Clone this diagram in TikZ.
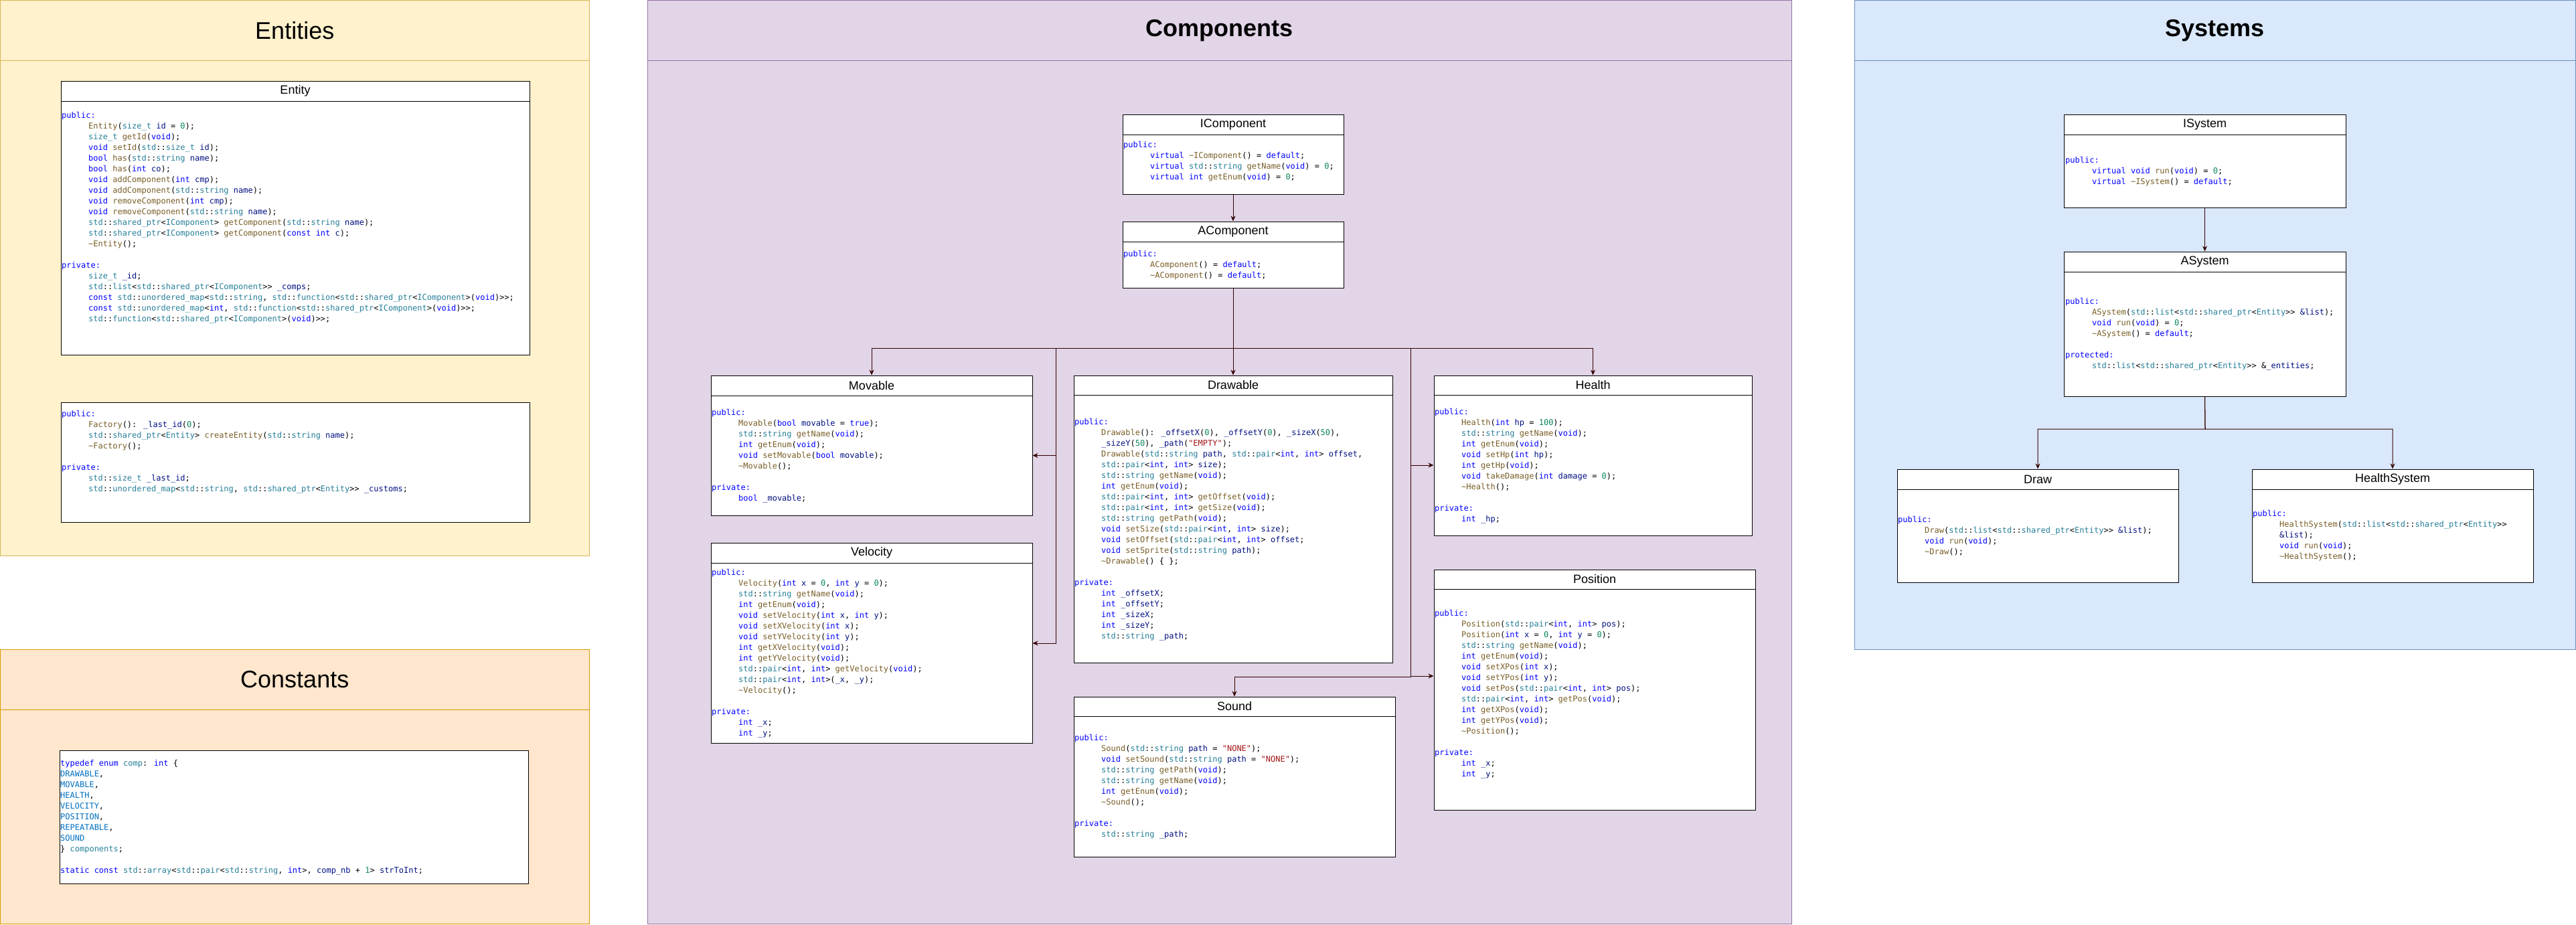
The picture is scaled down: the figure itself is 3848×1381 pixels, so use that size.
\documentclass[tikz,border=0pt]{standalone}
\usepackage{fontspec}
\setmainfont{Liberation Sans}
\newfontfamily\codefont{DejaVu Sans Mono}
\usetikzlibrary{fit,arrows.meta}

% panel and code colours
\definecolor{entfill}{HTML}{FFF2CC}\definecolor{entline}{HTML}{D6B656}
\definecolor{cstfill}{HTML}{FFE6CC}\definecolor{cstline}{HTML}{D79B00}
\definecolor{cmpfill}{HTML}{E1D5E7}\definecolor{cmpline}{HTML}{9673A6}
\definecolor{sysfill}{HTML}{DAE8FC}\definecolor{sysline}{HTML}{6C8EBF}
\definecolor{edgered}{HTML}{330000}
\definecolor{kwblue}{HTML}{0000FF}
\definecolor{tyteal}{HTML}{267F99}
\definecolor{fnbrown}{HTML}{795E26}
\definecolor{nbgreen}{HTML}{098658}
\definecolor{vrnavy}{HTML}{001080}
\definecolor{qsred}{HTML}{A31515}
\definecolor{enblue}{HTML}{0070C1}

\newcommand{\ckw}[1]{\textcolor{kwblue}{#1}}
\newcommand{\cty}[1]{\textcolor{tyteal}{#1}}
\newcommand{\cfn}[1]{\textcolor{fnbrown}{#1}}
\newcommand{\cnb}[1]{\textcolor{nbgreen}{#1}}
\newcommand{\cvr}[1]{\textcolor{vrnavy}{#1}}
\newcommand{\cqs}[1]{\textcolor{qsred}{#1}}
\newcommand{\cen}[1]{\textcolor{enblue}{#1}}
\newcommand{\cstd}[1]{\cty{std}::\cty{#1}}
\newcommand{\cind}{\hspace*{40pt}}

\tikzset{
  panel/.style={draw=#1line, fill=#1fill, line width=1pt, inner sep=0pt},
  ptitle/.style={label={[font=\fontsize{36}{40}\selectfont]center:#1}},
  head/.style={draw, fill=white, line width=1pt, inner sep=0pt, label={[font=\fontsize{18}{22}\selectfont]center:#1}},
  body/.style={draw, fill=white, line width=1pt, inner sep=0pt},
  code/.style={anchor=north west, inner sep=0pt, align=left, font=\codefont\fontsize{12}{16}\selectfont},
  arr/.style={draw=edgered, line width=1pt, -{Stealth[length=8pt, width=7pt]}},
}

\begin{document}
\begin{tikzpicture}[x=1pt, y=-1pt]
\useasboundingbox (0,0) rectangle (3848,1381);

% Panels
\node[panel=ent, fit={(0.5,90) (880,830)}] (entities-p) {};
\node[panel=ent, ptitle=Entities, fit={(0.5,0.5) (880,90)}] (entities) {};
\node[panel=cst, fit={(0.5,1060) (880,1380.5)}] (constants-p) {};
\node[panel=cst, ptitle=Constants, fit={(0.5,970) (880,1060)}] (constants) {};
\node[panel=cmp, fit={(967,90) (2676,1380.5)}] (components-p) {};
\node[panel=cmp, ptitle={\textbf{Components}}, fit={(967,0.5) (2676,90)}] (components) {};
\node[panel=sys, fit={(2770,90) (3847.5,970)}] (systems-p) {};
\node[panel=sys, ptitle={\textbf{Systems}}, fit={(2770,0.5) (3847.5,90)}] (systems) {};

% Entities
\node[head=Entity, fit={(91,121) (791,151)}] (entity) {};
\node[body, fit={(91,151) (791,530)}] (entity-b) {};
\node[code] (entity-t) at (92,165) {\strut\ckw{public:}\\
\cind\cfn{Entity}(\cty{size\_t} \cvr{id} = \cnb{0});\\
\cind\cty{size\_t} \cfn{getId}(\ckw{void});\\
\cind\ckw{void} \cfn{setId}(\cstd{size\_t} \cvr{id});\\
\cind\ckw{bool} \cfn{has}(\cstd{string} \cvr{name});\\
\cind\ckw{bool} \cfn{has}(\ckw{int} \cvr{co});\\
\cind\ckw{void} \cfn{addComponent}(\ckw{int} \cvr{cmp});\\
\cind\ckw{void} \cfn{addComponent}(\cstd{string} \cvr{name});\\
\cind\ckw{void} \cfn{removeComponent}(\ckw{int} \cvr{cmp});\\
\cind\ckw{void} \cfn{removeComponent}(\cstd{string} \cvr{name});\\
\cind\cstd{shared\_ptr}<\cty{IComponent}> \cfn{getComponent}(\cstd{string} \cvr{name});\\
\cind\cstd{shared\_ptr}<\cty{IComponent}> \cfn{getComponent}(\ckw{const} \ckw{int} \cvr{c});\\
\cind\cfn{\textasciitilde Entity}();\\
\\
\ckw{private:}\\
\cind\cty{size\_t} \cvr{\_id};\\
\cind\cstd{list}<\cstd{shared\_ptr}<\cty{IComponent}>> \cvr{\_comps};\\
\cind\ckw{const} \cstd{unordered\_map}<\cstd{string}, \cstd{function}<\cstd{shared\_ptr}<\cty{IComponent}>(\ckw{void})>>;\\
\cind\ckw{const} \cstd{unordered\_map}<\ckw{int}, \cstd{function}<\cstd{shared\_ptr}<\cty{IComponent}>(\ckw{void})>>;\\
\cind\cstd{function}<\cstd{shared\_ptr}<\cty{IComponent}>(\ckw{void})>>;};

\node[body, fit={(91,601) (791,780)}] (factory) {};
\node[code] (factory-t) at (92,611) {\strut\ckw{public:}\\
\cind\cfn{Factory}(): \cvr{\_last\_id}(\cnb{0});\\
\cind\cstd{shared\_ptr}<\cty{Entity}> \cfn{createEntity}(\cstd{string} \cvr{name});\\
\cind\cfn{\textasciitilde Factory}();\\
\\
\ckw{private:}\\
\cind\cstd{size\_t} \cvr{\_last\_id};\\
\cind\cstd{unordered\_map}<\cstd{string}, \cstd{shared\_ptr}<\cty{Entity}>> \cvr{\_customs};};

% Constants
\node[body, fit={(89,1121) (789,1320)}] (consts) {};
\node[code] (consts-t) at (90,1133) {\strut\ckw{typedef} \ckw{enum} \cty{comp}: \ckw{int} \{\\
\cen{DRAWABLE},\\
\cen{MOVABLE},\\
\cen{HEALTH},\\
\cen{VELOCITY},\\
\cen{POSITION},\\
\cen{REPEATABLE},\\
\cen{SOUND}\\
\} \cty{components};\\
\\
\ckw{static} \ckw{const} \cstd{array}<\cstd{pair}<\cstd{string}, \ckw{int}>, \cvr{comp\_nb} + \cnb{1}> \cvr{strToInt};};

% Components
\node[head=IComponent, fit={(1677,171) (2007,201)}] (icomp) {};
\node[body, fit={(1677,201) (2007,290)}] (icomp-b) {};
\node[code] (icomp-t) at (1678,209) {\strut\ckw{public:}\\
\cind\ckw{virtual} \cfn{\textasciitilde IComponent}() = \ckw{default};\\
\cind\ckw{virtual} \cstd{string} \cfn{getName}(\ckw{void}) = \cnb{0};\\
\cind\ckw{virtual} \ckw{int} \cfn{getEnum}(\ckw{void}) = \cnb{0};};

\node[head=AComponent, fit={(1677,331) (2007,361)}] (acomp) {};
\node[body, fit={(1677,361) (2007,430)}] (acomp-b) {};
\node[code] (acomp-t) at (1678,372) {\strut\ckw{public:}\\
\cind\cfn{AComponent}() = \ckw{default};\\
\cind\cfn{\textasciitilde AComponent}() = \ckw{default};};

\node[head=Movable, fit={(1062,561) (1542,591)}] (movable) {};
\node[body, fit={(1062,591) (1542,770)}] (movable-b) {};
\node[code] (movable-t) at (1063,609) {\strut\ckw{public:}\\
\cind\cfn{Movable}(\ckw{bool} \cvr{movable} = \ckw{true});\\
\cind\cstd{string} \cfn{getName}(\ckw{void});\\
\cind\ckw{int} \cfn{getEnum}(\ckw{void});\\
\cind\ckw{void} \cfn{setMovable}(\ckw{bool} \cvr{movable});\\
\cind\cfn{\textasciitilde Movable}();\\
\\
\ckw{private:}\\
\cind\ckw{bool} \cvr{\_movable};};

\node[head=Velocity, fit={(1062,811) (1542,841)}] (velocity) {};
\node[body, fit={(1062,841) (1542,1110)}] (velocity-b) {};
\node[code] (velocity-t) at (1063,848) {\strut\ckw{public:}\\
\cind\cfn{Velocity}(\ckw{int} \cvr{x} = \cnb{0}, \ckw{int} \cvr{y} = \cnb{0});\\
\cind\cstd{string} \cfn{getName}(\ckw{void});\\
\cind\ckw{int} \cfn{getEnum}(\ckw{void});\\
\cind\ckw{void} \cfn{setVelocity}(\ckw{int} \cvr{x}, \ckw{int} \cvr{y});\\
\cind\ckw{void} \cfn{setXVelocity}(\ckw{int} \cvr{x});\\
\cind\ckw{void} \cfn{setYVelocity}(\ckw{int} \cvr{y});\\
\cind\ckw{int} \cfn{getXVelocity}(\ckw{void});\\
\cind\ckw{int} \cfn{getYVelocity}(\ckw{void});\\
\cind\cstd{pair}<\ckw{int}, \ckw{int}> \cfn{getVelocity}(\ckw{void});\\
\cind\cstd{pair}<\ckw{int}, \ckw{int}>(\cvr{\_x}, \cvr{\_y});\\
\cind\cfn{\textasciitilde Velocity}();\\
\\
\ckw{private:}\\
\cind\ckw{int} \cvr{\_x};\\
\cind\ckw{int} \cvr{\_y};};

\node[head=Drawable, fit={(1604,561) (2080,590)}] (drawable) {};
\node[body, fit={(1604,590) (2080,990)}] (drawable-b) {};
\node[code] (drawable-t) at (1605,623) {\strut\ckw{public:}\\
\cind\cfn{Drawable}(): \cvr{\_offsetX}(\cnb{0}), \cvr{\_offsetY}(\cnb{0}), \cvr{\_sizeX}(\cnb{50}),\\
\cind\cvr{\_sizeY}(\cnb{50}), \cvr{\_path}(\cqs{"EMPTY"});\\
\cind\cfn{Drawable}(\cstd{string} \cvr{path}, \cstd{pair}<\ckw{int}, \ckw{int}> \cvr{offset},\\
\cind\cstd{pair}<\ckw{int}, \ckw{int}> \cvr{size});\\
\cind\cstd{string} \cfn{getName}(\ckw{void});\\
\cind\ckw{int} \cfn{getEnum}(\ckw{void});\\
\cind\cstd{pair}<\ckw{int}, \ckw{int}> \cfn{getOffset}(\ckw{void});\\
\cind\cstd{pair}<\ckw{int}, \ckw{int}> \cfn{getSize}(\ckw{void});\\
\cind\cstd{string} \cfn{getPath}(\ckw{void});\\
\cind\ckw{void} \cfn{setSize}(\cstd{pair}<\ckw{int}, \ckw{int}> \cvr{size});\\
\cind\ckw{void} \cfn{setOffset}(\cstd{pair}<\ckw{int}, \ckw{int}> \cvr{offset};\\
\cind\ckw{void} \cfn{setSprite}(\cstd{string} \cvr{path});\\
\cind\cfn{\textasciitilde Drawable}() \{ \};\\
\\
\ckw{private:}\\
\cind\ckw{int} \cvr{\_offsetX};\\
\cind\ckw{int} \cvr{\_offsetY};\\
\cind\ckw{int} \cvr{\_sizeX};\\
\cind\ckw{int} \cvr{\_sizeY};\\
\cind\cstd{string} \cvr{\_path};};

\node[head=Sound, fit={(1604,1041) (2084,1070)}] (sound) {};
\node[body, fit={(1604,1070) (2084,1280)}] (sound-b) {};
\node[code] (sound-t) at (1605,1095) {\strut\ckw{public:}\\
\cind\cfn{Sound}(\cstd{string} \cvr{path} = \cqs{"NONE"});\\
\cind\ckw{void} \cfn{setSound}(\cstd{string} \cvr{path} = \cqs{"NONE"});\\
\cind\cstd{string} \cfn{getPath}(\ckw{void});\\
\cind\cstd{string} \cfn{getName}(\ckw{void});\\
\cind\ckw{int} \cfn{getEnum}(\ckw{void});\\
\cind\cfn{\textasciitilde Sound}();\\
\\
\ckw{private:}\\
\cind\cstd{string} \cvr{\_path};};

\node[head=Health, fit={(2142,561) (2617,590)}] (health) {};
\node[body, fit={(2142,590) (2617,800)}] (health-b) {};
\node[code] (health-t) at (2143,608) {\strut\ckw{public:}\\
\cind\cfn{Health}(\ckw{int} \cvr{hp} = \cnb{100});\\
\cind\cstd{string} \cfn{getName}(\ckw{void});\\
\cind\ckw{int} \cfn{getEnum}(\ckw{void});\\
\cind\ckw{void} \cfn{setHp}(\ckw{int} \cvr{hp});\\
\cind\ckw{int} \cfn{getHp}(\ckw{void});\\
\cind\ckw{void} \cfn{takeDamage}(\ckw{int} \cvr{damage} = \cnb{0});\\
\cind\cfn{\textasciitilde Health}();\\
\\
\ckw{private:}\\
\cind\ckw{int} \cvr{\_hp};};

\node[head=Position, fit={(2142,851) (2622,880)}] (position) {};
\node[body, fit={(2142,880) (2622,1210)}] (position-b) {};
\node[code] (position-t) at (2143,909) {\strut\ckw{public:}\\
\cind\cfn{Position}(\cstd{pair}<\ckw{int}, \ckw{int}> \cvr{pos});\\
\cind\cfn{Position}(\ckw{int} \cvr{x} = \cnb{0}, \ckw{int} \cvr{y} = \cnb{0});\\
\cind\cstd{string} \cfn{getName}(\ckw{void});\\
\cind\ckw{int} \cfn{getEnum}(\ckw{void});\\
\cind\ckw{void} \cfn{setXPos}(\ckw{int} \cvr{x});\\
\cind\ckw{void} \cfn{setYPos}(\ckw{int} \cvr{y});\\
\cind\ckw{void} \cfn{setPos}(\cstd{pair}<\ckw{int}, \ckw{int}> \cvr{pos});\\
\cind\cstd{pair}<\ckw{int}, \ckw{int}> \cfn{getPos}(\ckw{void});\\
\cind\ckw{int} \cfn{getXPos}(\ckw{void});\\
\cind\ckw{int} \cfn{getYPos}(\ckw{void});\\
\cind\cfn{\textasciitilde Position}();\\
\\
\ckw{private:}\\
\cind\ckw{int} \cvr{\_x};\\
\cind\ckw{int} \cvr{\_y};};

% Systems
\node[head=ISystem, fit={(3083,171) (3504,201)}] (isys) {};
\node[body, fit={(3083,201) (3504,310)}] (isys-b) {};
\node[code] (isys-t) at (3085,232) {\strut\ckw{public:}\\
\cind\ckw{virtual} \ckw{void} \cfn{run}(\ckw{void}) = \cnb{0};\\
\cind\ckw{virtual} \cfn{\textasciitilde ISystem}() = \ckw{default};};

\node[head=ASystem, fit={(3083,376) (3504,406)}] (asys) {};
\node[body, fit={(3083,406) (3504,592)}] (asys-b) {};
\node[code] (asys-t) at (3085,443) {\strut\ckw{public:}\\
\cind\cfn{ASystem}(\cstd{list}<\cstd{shared\_ptr}<\cty{Entity}>> \cvr{\&list});\\
\cind\ckw{void} \cfn{run}(\ckw{void}) = \cnb{0};\\
\cind\cfn{\textasciitilde ASystem}() = \ckw{default};\\
\\
\ckw{protected:}\\
\cind\cstd{list}<\cstd{shared\_ptr}<\cty{Entity}>> \&\cvr{\_entities};};

\node[head=Draw, fit={(2834,701) (3254,731)}] (drawsys) {};
\node[body, fit={(2834,731) (3254,870)}] (drawsys-b) {};
\node[code] (drawsys-t) at (2835,769) {\strut\ckw{public:}\\
\cind\cfn{Draw}(\cstd{list}<\cstd{shared\_ptr}<\cty{Entity}>> \cvr{\&list});\\
\cind\ckw{void} \cfn{run}(\ckw{void});\\
\cind\cfn{\textasciitilde Draw}();};

\node[head=HealthSystem, fit={(3364,701) (3784,731)}] (hsys) {};
\node[body, fit={(3364,731) (3784,870)}] (hsys-b) {};
\node[code] (hsys-t) at (3365,760) {\strut\ckw{public:}\\
\cind\cfn{HealthSystem}(\cstd{list}<\cstd{shared\_ptr}<\cty{Entity}>>\\
\cind\cvr{\&list});\\
\cind\ckw{void} \cfn{run}(\ckw{void});\\
\cind\cfn{\textasciitilde HealthSystem}();};

% Inheritance arrows
\coordinate (cbus) at (1842,520);
\coordinate (cbusL) at (1577,520);
\coordinate (cbusR) at (2107,520);
\coordinate (sbend) at (2107,1011);
\coordinate (sbus) at (3294,641);

\draw[arr] (icomp-b.south) -- (acomp.north);
\draw[arr] (acomp-b.south) -- (drawable.north);
\draw[arr] (acomp-b.south) -- (cbus) -| (movable.north);
\draw[arr] (acomp-b.south) -- (cbus) -| (health.north);
\draw[arr] (acomp-b.south) -- (cbus) -- (cbusL) |- (movable-b.east);
\draw[arr] (acomp-b.south) -- (cbus) -- (cbusL) |- ([yshift=14.5pt]velocity-b.east);
\draw[arr] (acomp-b.south) -- (cbus) -- (cbusR) |- (health-b.west);
\draw[arr] (acomp-b.south) -- (cbus) -- (cbusR) |- ([yshift=35pt]position-b.west);
\draw[arr] (acomp-b.south) -- (cbus) -- (cbusR) -- (sbend) -| (sound.north);

\draw[arr] (isys-b.south) -- (asys.north);
\draw[arr] (asys-b.south) -- (sbus) -| (drawsys.north);
\draw[arr] (asys-b.south) -- (sbus) -| (hsys.north);
\end{tikzpicture}
\end{document}
